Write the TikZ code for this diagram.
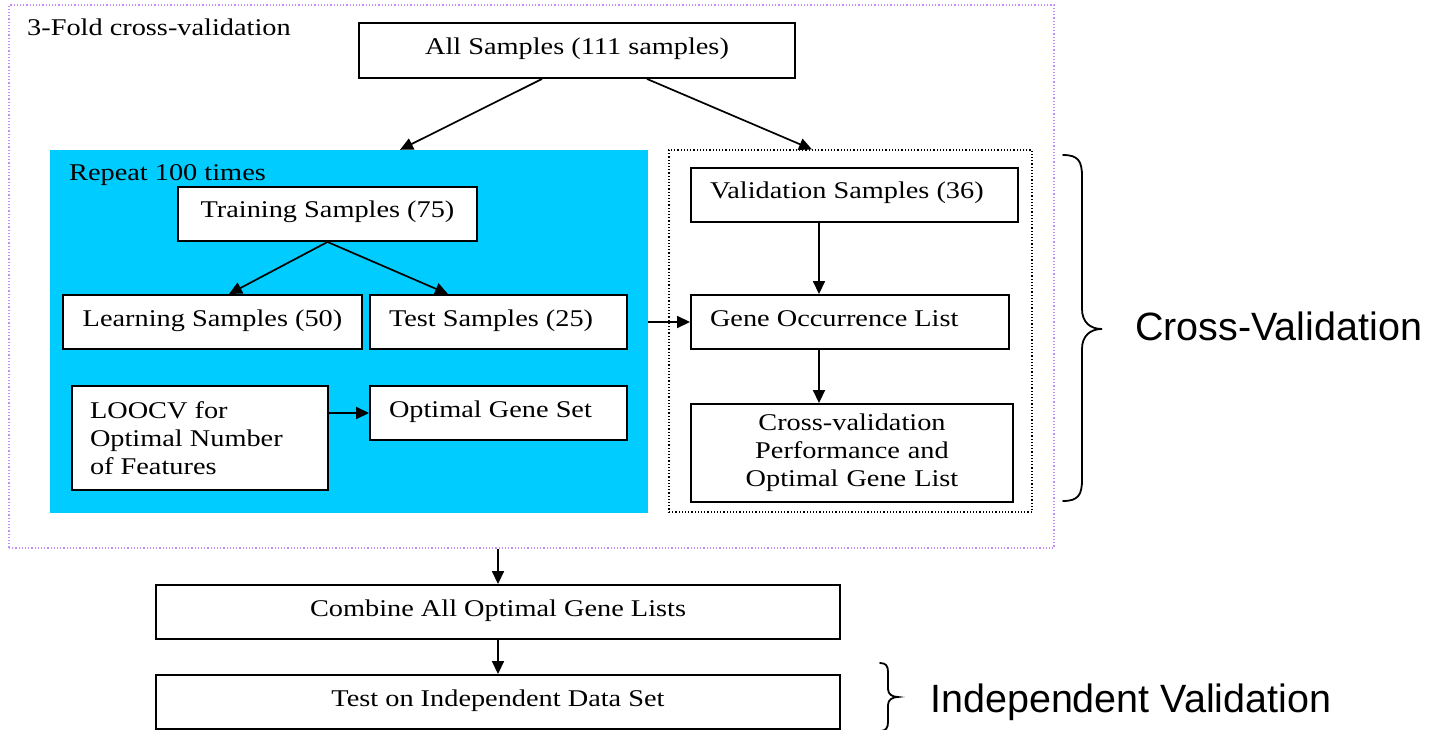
\documentclass[tikz,border=0pt]{standalone}
\usepackage{fontspec}
\setmainfont{Liberation Serif}[FakeStretch=1.18]
\newfontfamily\arialf{Liberation Sans}
\usetikzlibrary{arrows.meta,calc}
\definecolor{cyanfill}{HTML}{00CCFF}
\definecolor{lav}{HTML}{C28EF5}
\begin{document}
\begin{tikzpicture}[x=1pt,y=-1pt,
  txt/.style={font=\fontsize{24}{28}\selectfont},
  box/.style={draw=black, line width=1.9pt, fill=white, inner sep=0pt, txt},
  cbox/.style={box, text height=17pt, text depth=9pt, align=center},
  lbox/.style={box, text height=17pt, text depth=9pt, text width=#1, align=flush left},
  mbox/.style={box, text width=#1, align=flush left},
  mcbox/.style={box, text width=#1, align=center},
  arr/.style={-{Triangle[length=13pt,width=12pt]}, line width=1.7pt},
  brace/.style={line width=1.8pt, line cap=round},
  side/.style={font=\arialf\fontsize{39.5}{44}\selectfont, anchor=base west, inner sep=0pt},
  lab/.style={txt, anchor=base west, inner sep=0pt}
]
\useasboundingbox (0,0) rectangle (1443,730);

% containers
\node[draw=lav, dotted, line width=1.2pt, minimum width=1045pt, minimum height=543pt, inner sep=0pt] (frame) at (531.5,276.5) {};
\node[fill=cyanfill, minimum width=598pt, minimum height=363pt, inner sep=0pt] (rep) at (349,331.5) {};
\node[draw=black, dotted, line width=1.2pt, minimum width=363pt, minimum height=362pt, inner sep=0pt] (val) at (850.5,331) {};

\node[lab] (lab3) at (27,35.7) {3-Fold cross-validation};
\node[lab] (labr) at (69,181) {Repeat 100 times};

% boxes
\node[cbox, minimum width=436pt, minimum height=55pt] (all) at (577,50.5) {All Samples (111 samples)};
\node[cbox, minimum width=299pt, minimum height=54pt] (tr) at (327.5,214) {Training Samples (75)};
\node[cbox, minimum width=299pt, minimum height=54pt] (le) at (212.5,322) {Learning Samples (50)};
\node[lbox=219pt, minimum width=257pt, minimum height=54pt] (ts) at (498.5,322) {Test Samples (25)};
\node[mbox=220pt, minimum width=256pt, minimum height=104pt] (lo) at (200,438) {LOOCV for\\Optimal Number\\of Features};
\node[lbox=219pt, minimum width=257pt, minimum height=54pt] (og) at (498.5,413) {Optimal Gene Set};
\node[lbox=289pt, minimum width=327pt, minimum height=54pt] (vs) at (854.5,195) {Validation Samples (36)};
\node[lbox=280pt, minimum width=318pt, minimum height=54pt] (go) at (850,322) {Gene Occurrence List};
\node[mcbox=300pt, minimum width=322pt, minimum height=98pt] (cv) at (852,453) {Cross-validation\\Performance and\\Optimal Gene List};
\node[cbox, minimum width=684pt, minimum height=54pt] (cb) at (498,612) {Combine All Optimal Gene Lists};
\node[cbox, minimum width=684pt, minimum height=54pt] (ti) at (498,702) {Test on Independent Data Set};

% connectors
\coordinate (vx) at (819,0);
\draw[arr] ([xshift=-35pt]all.south) -- ([xshift=51pt]rep.north);
\draw[arr] ([xshift=70pt]all.south) -- ([xshift=-38.5pt]val.north);
\draw[arr] (tr.south) -- ([xshift=16.5pt]le.north);
\draw[arr] (tr.south) -- ([xshift=-50.5pt]ts.north);
\draw[arr] (lo.east |- og.west) -- (og.west);
\draw[arr] (rep.east |- go.west) -- (go.west);
\draw[arr] (vs.south -| vx) -- (go.north -| vx);
\draw[arr] (go.south -| vx) -- (cv.north -| vx);
\draw[arr] (frame.south -| cb.north) -- (cb.north);
\draw[arr] (cb.south) -- (ti.north);

% braces
\draw[brace] (1063,155) .. controls (1078,155) and (1082,161) .. (1082,176) -- (1082,309)
  .. controls (1082,322) and (1090,329) .. (1102,329)
  .. controls (1090,329) and (1082,336) .. (1082,349) -- (1082,480)
  .. controls (1082,495) and (1078,501) .. (1063,501);
\node[side] (cvl) at (1135,340) {Cross-Validation};

\draw[brace] (880,663) .. controls (886,663) and (888,666) .. (888,672) -- (888,689)
  .. controls (888,694) and (892,697) .. (898,697)
  .. controls (892,697) and (888,700) .. (888,705) -- (888,722)
  .. controls (888,728) and (886,731) .. (880,731);
\node[side] (ivl) at (930,712) {Independent Validation};
\end{tikzpicture}
\end{document}
